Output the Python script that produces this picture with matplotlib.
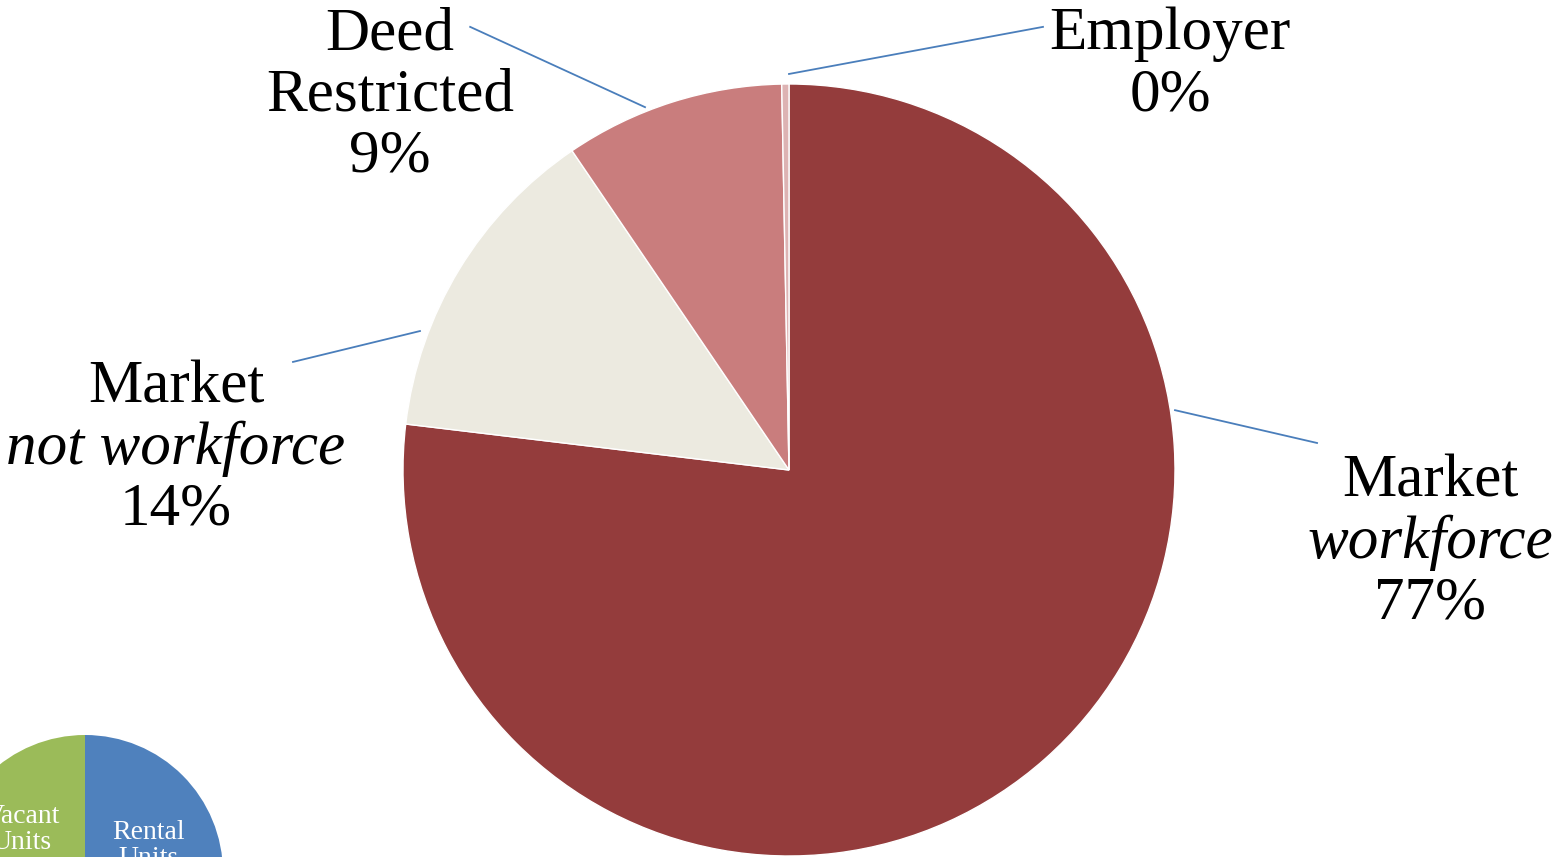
import numpy as np
import matplotlib
matplotlib.use("Agg")
import matplotlib.pyplot as plt

# main pie (share of units, %)
categories = ["Market workforce", "Market not workforce", "Deed Restricted", "Employer"]
shares = [76.9, 13.6, 9.2, 0.3]
colors = ["#943C3C", "#ECEAE0", "#C97D7D", "#DDB3B3"]

# label lines (text, italic?) per slice
label_lines = [
    [("Market", False), ("workforce", True), ("77%", False)],
    [("Market", False), ("not workforce", True), ("14%", False)],
    [("Deed", False), ("Restricted", False), ("9%", False)],
    [("Employer", False), ("0%", False)],
]
# label block centres and leader-line ends, in pie radius units
label_pos = [(1.661, -0.189), (-1.588, 0.054), (-1.034, 0.969), (0.987, 1.049)]
leader_start = [(1.000, 0.155), (-0.956, 0.360), (-0.373, 0.940), (0.000, 1.026)]
leader_end = [(1.368, 0.070), (-1.285, 0.280), (-0.826, 1.148), (0.658, 1.148)]

# small inset pie in the corner
inset_labels = ["Rental\nUnits", "Vacant\nUnits"]
inset_shares = [50, 50]
inset_colors = ["#4F81BD", "#9BBB59"]
inset_label_pos = [(0.457, 0.196), (-0.457, 0.312)]

W, H = 1562, 857
fig = plt.figure(figsize=(W / 100, H / 100), dpi=100)
plt.rcParams['font.family'] = ['Liberation Serif', 'DejaVu Serif']

cx, cy, r = 789, 470, 386
ax = fig.add_axes([(cx - r) / W, (H - cy - r) / H, 2 * r / W, 2 * r / H])
ax.pie(shares, colors=colors, startangle=90, counterclock=False, radius=1,
       wedgeprops=dict(linewidth=1.0, edgecolor="white"))
ax.set_xlim(-1, 1)
ax.set_ylim(-1, 1)
ax.set_aspect("equal")
ax.axis("off")

line_h = 61 / r
for lines, (lx, ly), s, e in zip(label_lines, label_pos, leader_start, leader_end):
    ax.plot([s[0], e[0]], [s[1], e[1]], color="#4A7EBB", lw=1.3, clip_on=False)
    n = len(lines)
    for i, (txt, it) in enumerate(lines):
        y = ly + ((n - 1) / 2 - i) * line_h
        ax.text(lx, y, txt, ha="center", va="center", fontsize=44,
                style="italic" if it else "normal", clip_on=False)

icx, icy, ir = 85, 873, 138
ax2 = fig.add_axes([(icx - ir) / W, (H - icy - ir) / H, 2 * ir / W, 2 * ir / H])
ax2.pie(inset_shares, colors=inset_colors, startangle=90, counterclock=False,
        radius=1)
for txt, (tx, ty) in zip(inset_labels, inset_label_pos):
    ax2.text(tx, ty, txt, color="white", fontsize=20, ha="center", va="center",
             linespacing=1.05, clip_on=False)
ax2.set_xlim(-1, 1)
ax2.set_ylim(-1, 1)
ax2.set_aspect("equal")
ax2.axis("off")

fig.savefig("out.png", dpi=100)
